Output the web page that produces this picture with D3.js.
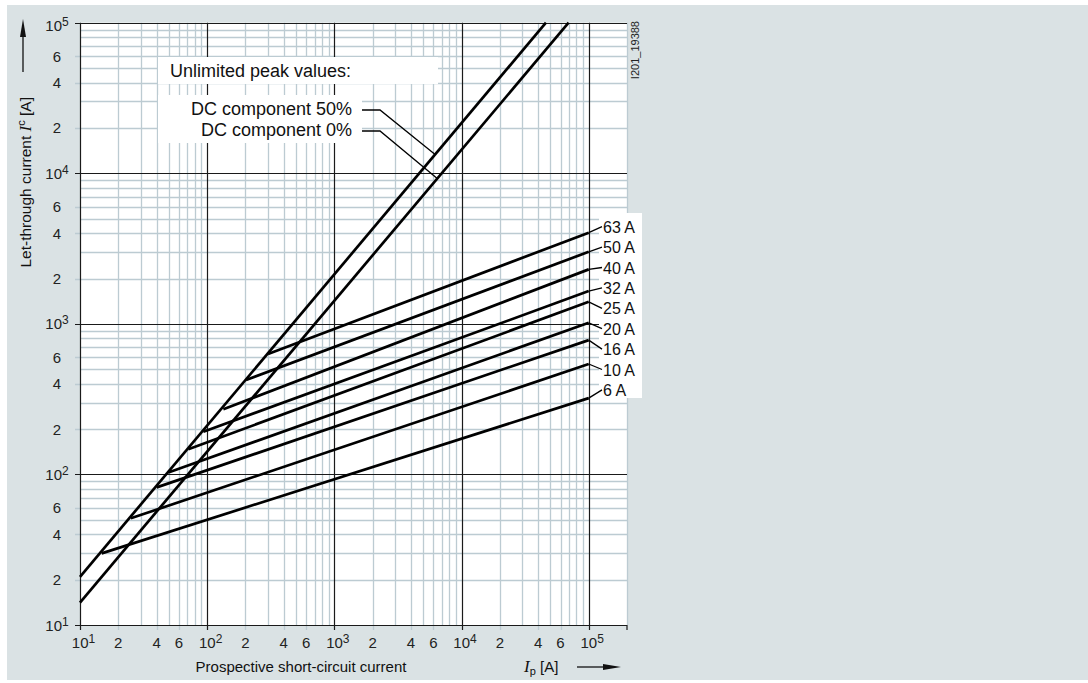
<!DOCTYPE html>
<html><head><meta charset="utf-8">
<script src="https://cdn.jsdelivr.net/npm/d3@7/dist/d3.min.js"></script>
<style>
html,body{margin:0;padding:0;background:#fff;}
svg{display:block;font-family:"Liberation Sans",Arial,sans-serif;}
</style></head>
<body>
<svg id="chart" width="1088" height="683"></svg>
<script>
// ---- data ----
const xMajorTicks = [1e1, 1e2, 1e3, 1e4, 1e5];
const xLabelMinor = [2, 4, 6];
const yMajorTicks = [1e1, 1e2, 1e3, 1e4, 1e5];
const yLabelMinor = [2, 4, 6];

const peakNames = ["DC component 50%", "DC component 0%"];
const peak50Ip = [10, 46100];
const peak50Ic = [20.9, 100000];
const peak0Ip = [10, 69500];
const peak0Ic = [14.1, 100000];
const peakLeaderIp = [6200, 6440];

const ratedNames = ["6 A", "10 A", "16 A", "20 A", "25 A", "32 A", "40 A", "50 A", "63 A"];
const ratedStartIp = [14.8, 25.1, 40.1, 49.5, 71.1, 93.3, 134, 202, 301];
const ratedStartIc = [29.9, 51.1, 82, 103, 147, 192, 271, 424, 631];
const ratedEndIp = [1e5, 1e5, 1e5, 1e5, 1e5, 1e5, 1e5, 1e5, 1e5];
const ratedEndIc = [321, 541, 780, 1016, 1400, 1650, 2300, 3010, 4030];

// ---- layout ----
const svg = d3.select("#chart");
const L = 80, R = 627, T = 22.7, B = 625;
const x = d3.scaleLog().domain([10, 2e5]).range([L, R]);
const y = d3.scaleLog().domain([10, 1e5]).range([B, T]);
const minorCol = "#bccbd2", majorCol = "#1a1a1a";

svg.append("rect").attr("x", 7).attr("y", 5).attr("width", 1081).attr("height", 675).attr("fill", "#dae2e4");
svg.append("rect").attr("x", L).attr("y", T).attr("width", R - L).attr("height", B - T).attr("fill", "#fff");

// minor grid values
const xMinor = [];
for (let e = 1; e <= 5; e++) for (let k = 2; k <= 9; k++) { const v = k * Math.pow(10, e); if (v <= 2e5) xMinor.push(v); }
const yMinor = [];
for (let e = 1; e <= 4; e++) for (let k = 2; k <= 9; k++) yMinor.push(k * Math.pow(10, e));
const mant = d => Math.round(d / Math.pow(10, Math.floor(Math.log10(d) + 1e-9)));

const g = svg.append("g");
g.selectAll(".xmin").data(xMinor).enter().append("line")
  .attr("x1", d => Math.round(x(d)) + 0.5).attr("x2", d => Math.round(x(d)) + 0.5)
  .attr("y1", T).attr("y2", d => (xLabelMinor.includes(mant(d)) && d < 1.5e5) ? B + 5 : B)
  .attr("stroke", minorCol).attr("stroke-width", 1.3);
g.selectAll(".ymin").data(yMinor).enter().append("line")
  .attr("y1", d => Math.round(y(d)) + 0.5).attr("y2", d => Math.round(y(d)) + 0.5)
  .attr("x1", d => yLabelMinor.includes(mant(d)) ? L - 5 : L).attr("x2", R)
  .attr("stroke", minorCol).attr("stroke-width", 1.3);
g.selectAll(".xmaj").data(xMajorTicks).enter().append("line")
  .attr("x1", d => Math.round(x(d)) + 0.5).attr("x2", d => Math.round(x(d)) + 0.5)
  .attr("y1", T).attr("y2", B + 5).attr("stroke", majorCol).attr("stroke-width", 1.2);
g.selectAll(".ymaj").data(yMajorTicks).enter().append("line")
  .attr("y1", d => Math.round(y(d)) + 0.5).attr("y2", d => Math.round(y(d)) + 0.5)
  .attr("x1", L - 5).attr("x2", R).attr("stroke", majorCol).attr("stroke-width", 1.2);
g.append("line").attr("x1", R).attr("x2", R).attr("y1", B).attr("y2", B + 5).attr("stroke", majorCol).attr("stroke-width", 1.2);

// tick labels
function tickText(sel, v) {
  const e = Math.log10(v);
  if (Math.abs(e - Math.round(e)) < 1e-9) {
    sel.text("10");
    sel.append("tspan").attr("font-size", 12).attr("dy", -5).text(Math.round(e));
  } else {
    sel.text(mant(v));
  }
}
const xLab = [];
for (let e = 1; e <= 5; e++) { xLab.push(Math.pow(10, e)); if (e < 5) xLabelMinor.forEach(k => xLab.push(k * Math.pow(10, e))); }
xLab.forEach(v => {
  const t = svg.append("text").attr("x", x(v) + (Number.isInteger(Math.log10(v)) ? 3.5 : 0)).attr("y", 648)
    .attr("text-anchor", "middle").attr("font-size", 15).attr("fill", "#222");
  tickText(t, v);
});
const yLab = [];
for (let e = 1; e <= 5; e++) { yLab.push(Math.pow(10, e)); if (e < 5) yLabelMinor.forEach(k => yLab.push(k * Math.pow(10, e))); }
yLab.forEach(v => {
  const t = svg.append("text").attr("x", 57).attr("y", y(v) + 5.5 + (v === 1e5 ? 3 : 0))
    .attr("text-anchor", "middle").attr("font-size", 15).attr("fill", "#222");
  tickText(t, v);
});

// legend boxes
svg.append("rect").attr("x", 158).attr("y", 57).attr("width", 280).attr("height", 27).attr("fill", "#fff");
svg.append("rect").attr("x", 158).attr("y", 95).attr("width", 204).attr("height", 48).attr("fill", "#fff");
svg.append("text").attr("x", 170).attr("y", 77).attr("font-size", 18).attr("fill", "#111").text("Unlimited peak values:");
svg.append("text").attr("x", 352).attr("y", 115).attr("text-anchor", "end").attr("font-size", 18).attr("fill", "#111").text(peakNames[0]);
svg.append("text").attr("x", 352).attr("y", 136).attr("text-anchor", "end").attr("font-size", 18).attr("fill", "#111").text(peakNames[1]);

// label box for rated currents
svg.append("rect").attr("x", 599).attr("y", 213).attr("width", 43).attr("height", 185).attr("fill", "#fff");

// curves
const line = d3.line().x(d => x(d[0])).y(d => y(d[1]));
const curves = [d3.zip(peak50Ip, peak50Ic), d3.zip(peak0Ip, peak0Ic)];
ratedNames.forEach((n, i) => curves.push([[ratedStartIp[i], ratedStartIc[i]], [ratedEndIp[i], ratedEndIc[i]]]));
svg.selectAll(".curve").data(curves).enter().append("path")
  .attr("d", line).attr("fill", "none").attr("stroke", "#000").attr("stroke-width", 2.7);

// leaders for peak curves
function onCurve(ips, ics, v) {
  const s = d3.scaleLog().domain(ips).range(ics.map(Math.log10));
  return Math.pow(10, s(v));
}
const pk = [[peak50Ip, peak50Ic, 110], [peak0Ip, peak0Ic, 131]];
pk.forEach((p, i) => {
  const v = peakLeaderIp[i];
  const c = onCurve(p[0], p[1], v);
  svg.append("path").attr("d", `M362,${p[2]}H380L${x(v)},${y(c)}`)
    .attr("fill", "none").attr("stroke", "#000").attr("stroke-width", 1.3);
});

// rated labels with leaders
ratedNames.forEach((n, i) => {
  const idx = ratedNames.length - 1 - i;
  const ly = 226.7 + idx * 20.4;
  svg.append("path").attr("d", `M${x(ratedEndIp[i])},${y(ratedEndIc[i])}L602,${ly}`)
    .attr("fill", "none").attr("stroke", "#000").attr("stroke-width", 1.3);
  svg.append("text").attr("x", 603).attr("y", ly + 6).attr("font-size", 16).attr("fill", "#111").text(n);
});

// id label
svg.append("text").attr("transform", "translate(639,21) rotate(-90)").attr("text-anchor", "end")
  .attr("font-size", 11).attr("fill", "#222").text("I201_19388");

// y axis title with arrow
const yt = svg.append("text").attr("transform", "translate(31,97) rotate(-90)").attr("text-anchor", "end")
  .attr("font-size", 15.5).attr("fill", "#111");
yt.append("tspan").text("Let-through current ");
yt.append("tspan").attr("font-family", "'Liberation Serif',serif").attr("font-style", "italic").attr("font-size", 17).text("I");
yt.append("tspan").attr("font-size", 11).attr("dy", -6).text("c");
yt.append("tspan").attr("dy", 6).text(" [A]");
svg.append("line").attr("x1", 23).attr("x2", 23).attr("y1", 72).attr("y2", 34).attr("stroke", "#111").attr("stroke-width", 1.3);
svg.append("path").attr("d", "M23,19L26,37L20,37Z").attr("fill", "#111");

// x axis title
svg.append("text").attr("x", 301).attr("y", 672).attr("text-anchor", "middle").attr("font-size", 15).attr("fill", "#111")
  .text("Prospective short-circuit current");
const xt = svg.append("text").attr("x", 524).attr("y", 672).attr("font-size", 15).attr("fill", "#111");
xt.append("tspan").attr("font-family", "'Liberation Serif',serif").attr("font-style", "italic").attr("font-size", 17).text("I");
xt.append("tspan").attr("font-size", 11).attr("dy", 3).text("p");
xt.append("tspan").attr("dy", -3).text("  [A]");
svg.append("line").attr("x1", 577).attr("x2", 605).attr("y1", 667).attr("y2", 667).attr("stroke", "#111").attr("stroke-width", 1.3);
svg.append("path").attr("d", "M621,667L603,664L603,670Z").attr("fill", "#111");
</script>
</body></html>
